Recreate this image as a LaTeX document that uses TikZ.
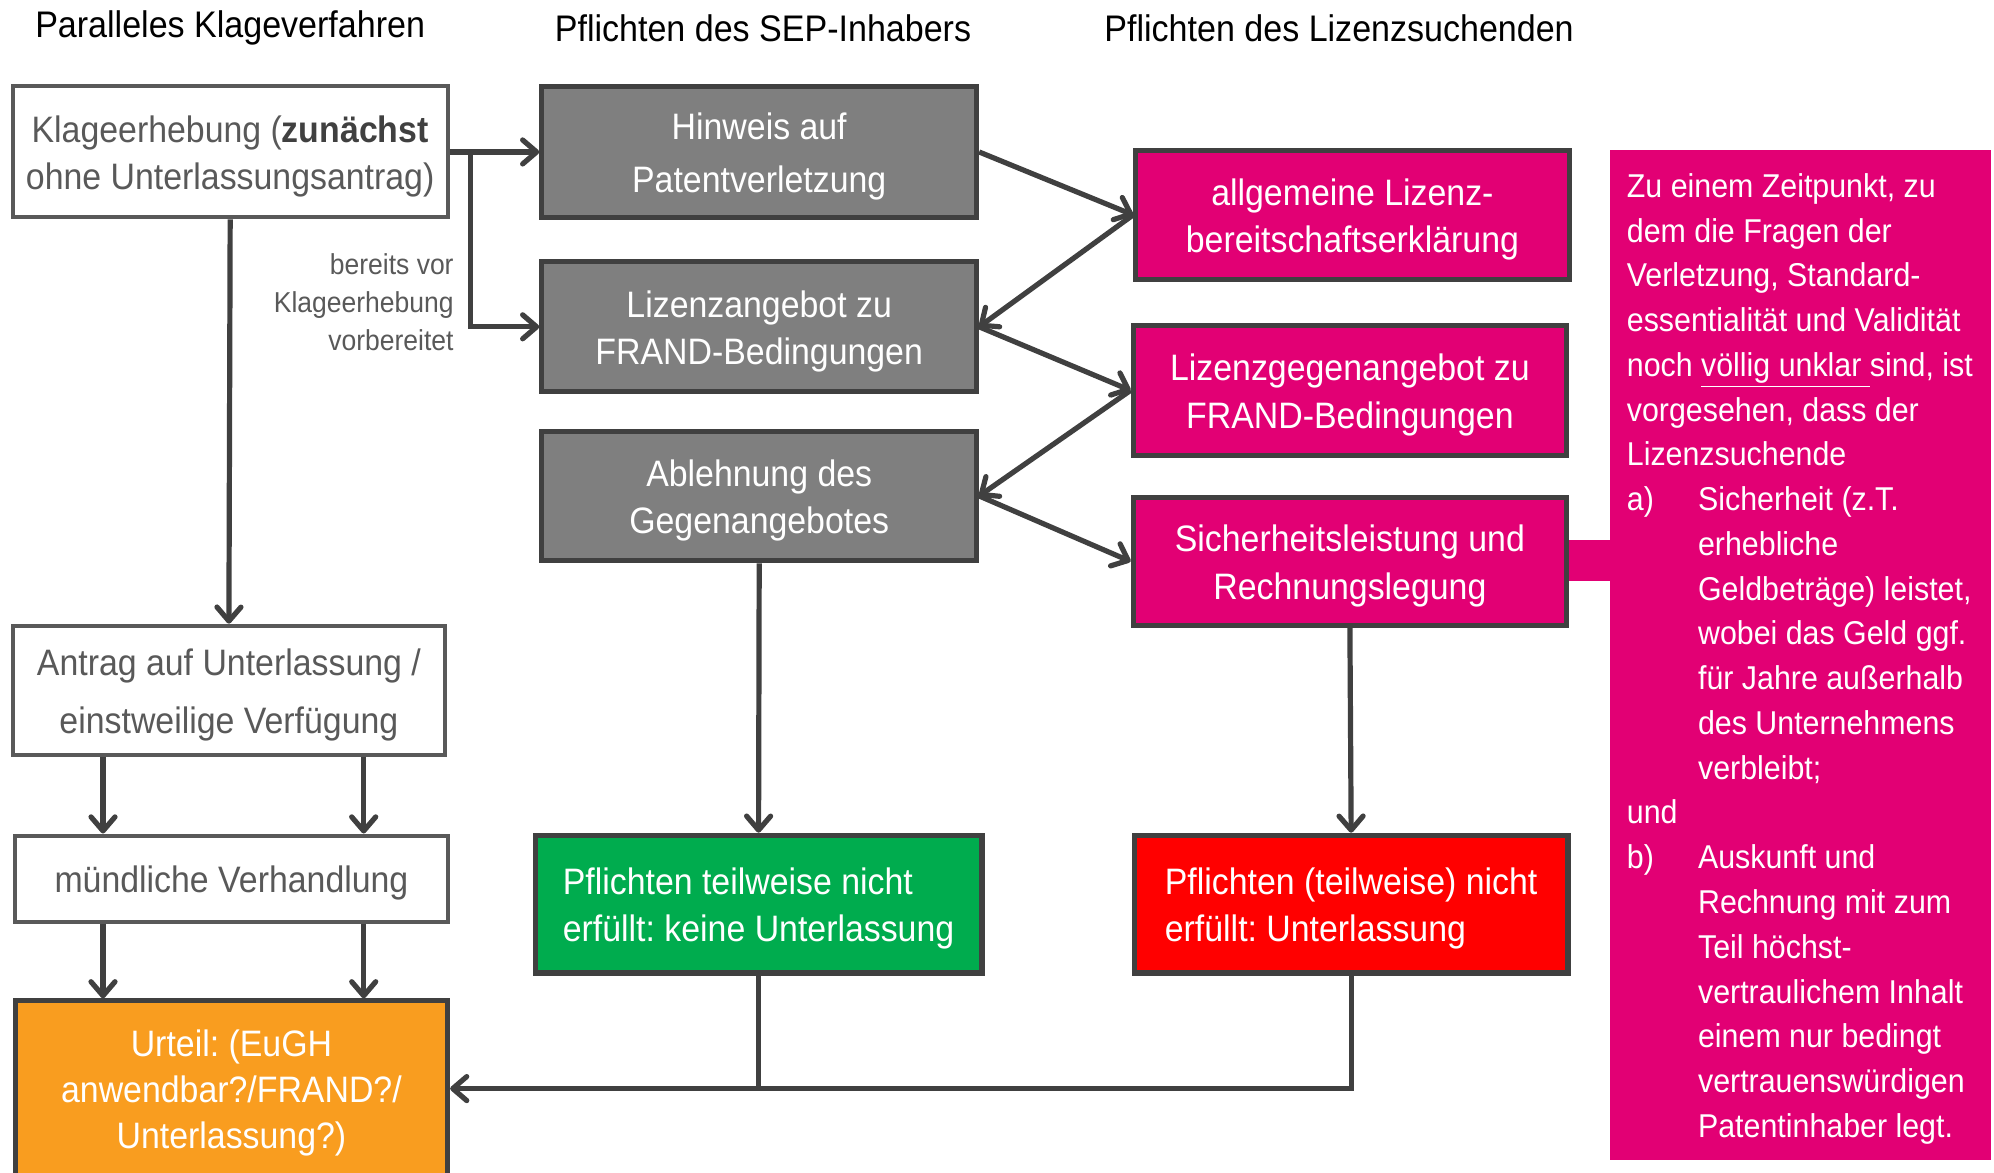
\documentclass[tikz,border=0pt]{standalone}
\usepackage{fontspec}
\setmainfont{Liberation Sans}[FakeStretch=0.92]
\usetikzlibrary{arrows.meta}
\frenchspacing
\definecolor{linec}{HTML}{404040}
\definecolor{boxgray}{HTML}{7F7F7F}
\definecolor{txtgray}{HTML}{595959}
\definecolor{tmag}{HTML}{E20074}
\definecolor{okgreen}{HTML}{00AC4E}
\definecolor{orng}{HTML}{F99D1F}
\newcommand\boxfont{\fontsize{18.4}{23.8}\selectfont}
\newcommand\titlefont{\fontsize{18.5}{22}\selectfont}
\newcommand\labfont{\fontsize{14.4}{19}\selectfont}
\newcommand\infofont{\fontsize{16.5}{22.38}\selectfont}
\newcommand\toppad{\rule{0pt}{17.8pt}}
\newcommand\mybox[7]{%
 \pgfmathsetmacro\myw{(#4-#2)*0.6358}%
 \pgfmathsetmacro\myh{(#5-#3)*0.6358}%
 \node[#6,minimum width=\myw pt,minimum height=\myh pt] (#1) at ({(#2+#4)/2},{(#3+#5)/2}) {\toppad#7};%
}
\tikzset{
 basebox/.style={line width=2.2pt, draw=linec, inner sep=0pt, align=center, font=\boxfont},
 graybox/.style={basebox, line width=2.5pt, fill=boxgray, text=white},
 whitebox/.style={basebox, line width=2pt, draw=txtgray, fill=white, text=txtgray},
 magbox/.style={basebox, line width=2.5pt, fill=tmag, text=white},
 greenbox/.style={basebox, line width=2.8pt, fill=okgreen, text=white, align=left},
 redbox/.style={basebox, line width=2.8pt, fill=red, text=white, align=left},
 orangebox/.style={basebox, line width=2.5pt, fill=orng, text=white},
 infobox/.style={fill=tmag, draw=none, inner sep=0pt},
 infotext/.style={text=white, font=\infofont, align=left, inner sep=0pt},
 titletext/.style={font=\titlefont, text=black, inner sep=0pt},
 labtext/.style={font=\labfont, text=txtgray, align=right, inner sep=0pt},
 arr/.style={draw=linec, line width=2.6pt, -{Straight Barb[length=7pt,width=12pt,round]}},
 conn/.style={draw=linec, line width=2.6pt},
}
\begin{document}
\begin{tikzpicture}[x=0.6358pt,y=-0.6358pt]
\useasboundingbox (0,0) rectangle (1568,922);
% titles
\node[titletext] (t1) at (181,22) {Paralleles Klageverfahren};
\node[titletext] (t2) at (600,22) {Pflichten des SEP-Inhabers};
\node[titletext] (t3) at (1053,22) {Pflichten des Lizenzsuchenden};
% connector band to info box
\fill[tmag] (1230,425) rectangle (1268,457);
% info box
\mybox{info}{1266}{118}{1566}{912}{infobox}{}
\node[infotext, anchor=north west] (infotxt) at (1279,136) {Zu einem Zeitpunkt, zu\\
dem die Fragen der\\
Verletzung, Standard-\\
essentialität und Validität\\
noch \underline{völlig unklar\ }sind, ist\\
vorgesehen, dass der\\
Lizenzsuchende\\
\makebox[35.6pt][l]{a)}Sicherheit (z.T.\\
\hspace*{35.6pt}erhebliche\\
\hspace*{35.6pt}Geldbeträge) leistet,\\
\hspace*{35.6pt}wobei das Geld ggf.\\
\hspace*{35.6pt}für Jahre außerhalb\\
\hspace*{35.6pt}des Unternehmens\\
\hspace*{35.6pt}verbleibt;\\
und\\
\makebox[35.6pt][l]{b)}Auskunft und\\
\hspace*{35.6pt}Rechnung mit zum\\
\hspace*{35.6pt}Teil höchst-\\
\hspace*{35.6pt}vertraulichem Inhalt\\
\hspace*{35.6pt}einem nur bedingt\\
\hspace*{35.6pt}vertrauenswürdigen\\
\hspace*{35.6pt}Patentinhaber legt.};
% left column
\mybox{klage}{10}{68}{352}{171}{whitebox}{Klageerhebung (\textbf{\color{linec}zunächst}\\ohne Unterlassungsantrag)}
\mybox{antrag}{10}{492}{350}{594}{whitebox,font=\fontsize{18.4}{29.2}\selectfont}{Antrag auf Unterlassung /\\einstweilige Verfügung}
\mybox{muendl}{12}{657}{352}{725}{whitebox}{mündliche Verhandlung}
\mybox{urteil}{12}{787}{352}{925}{orangebox,font=\fontsize{18.4}{22.9}\selectfont}{Urteil: (EuGH\\anwendbar?/FRAND?/\\Unterlassung?)}
% middle column
\mybox{hinweis}{426}{68}{768}{171}{graybox,font=\fontsize{18.4}{26.7}\selectfont}{Hinweis auf\\Patentverletzung}
\mybox{angebot}{426}{206}{768}{308}{graybox}{Lizenzangebot zu\\FRAND-Bedingungen}
\mybox{ablehn}{426}{339}{768}{441}{graybox}{Ablehnung des\\Gegenangebotes}
\mybox{green}{421}{657}{772}{765}{greenbox}{Pflichten teilweise nicht\\erfüllt: keine Unterlassung}
% right column
\mybox{allg}{893}{118}{1234}{220}{magbox}{allgemeine Lizenz-\\bereitschaftserklärung}
\mybox{gegen}{891}{256}{1232}{358}{magbox}{Lizenzgegenangebot zu\\FRAND-Bedingungen}
\mybox{sicher}{891}{391}{1232}{492}{magbox}{Sicherheitsleistung und\\Rechnungslegung}
\mybox{rot}{892}{657}{1233}{765}{redbox}{Pflichten (teilweise) nicht\\erfüllt: Unterlassung}
% label
\node[labtext, anchor=east] (lab) at (357,238) {bereits vor\\Klageerhebung\\vorbereitet};
% coordinates
\coordinate (br) at (370,119.5);
\coordinate (cl) at (81,0);
\coordinate (cr) at (286,0);
% connectors
\draw[arr] (klage.east) -- (hinweis.west);
\draw[arr] (br) |- (angebot.west);
\draw[arr] (klage.south) -- (antrag.north);
\draw[arr] (antrag.south -| cl) -- (muendl.north -| cl);
\draw[arr] (antrag.south -| cr) -- (muendl.north -| cr);
\draw[arr] (muendl.south -| cl) -- (urteil.north -| cl);
\draw[arr] (muendl.south -| cr) -- (urteil.north -| cr);
\draw[arr] (hinweis.east) -- (allg.west);
\draw[arr] (allg.west) -- (angebot.east);
\draw[arr] (angebot.east) -- (gegen.west);
\draw[arr] (gegen.west) -- (ablehn.east);
\draw[arr] (ablehn.east) -- (sicher.west);
\draw[arr] (ablehn.south) -- (green.north);
\draw[arr] (sicher.south) -- (rot.north);
\draw[conn] (green.south) -- (green.south |- urteil.east);
\draw[arr] (rot.south) |- (urteil.east);
\end{tikzpicture}
\end{document}
